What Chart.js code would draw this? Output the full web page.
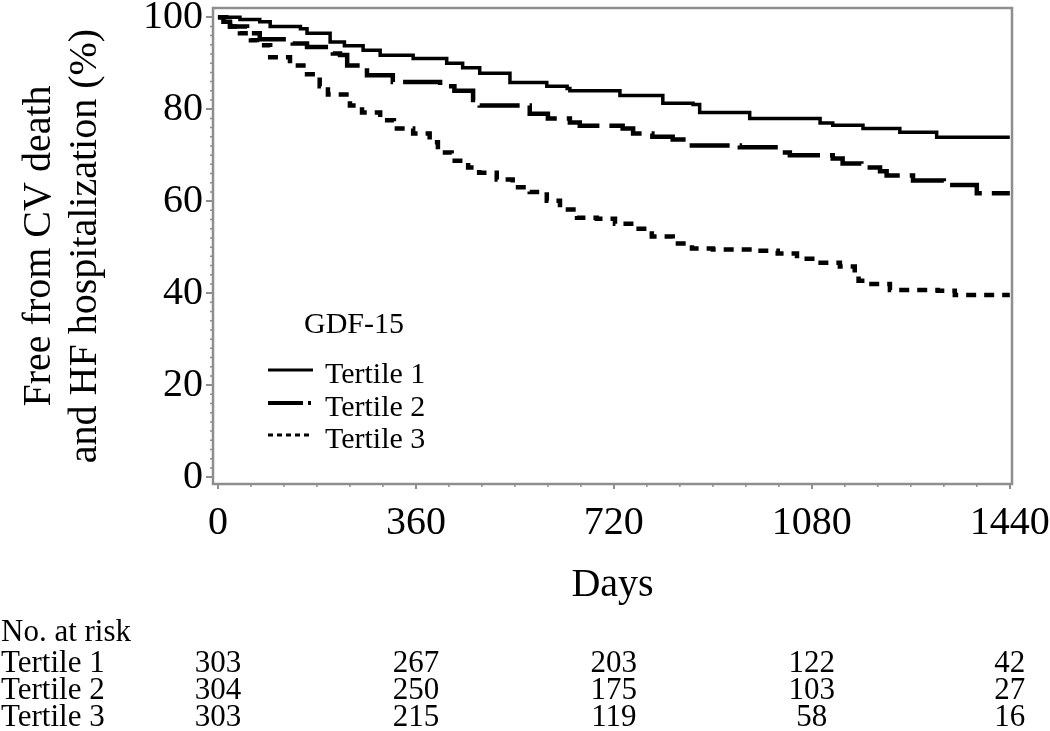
<!DOCTYPE html>
<html>
<head>
<meta charset="utf-8">
<script src="https://cdn.jsdelivr.net/npm/chart.js@4.4.1/dist/chart.umd.min.js"></script>
<style>
  html, body { margin: 0; padding: 0; background: #fff; }
</style>
</head>
<body>
<canvas id="kmChart" width="1050" height="731"></canvas>
<script>
// Kaplan-Meier curves (day of step, % after step)
const tertile1Days = [0, 40, 76, 95, 150, 162, 204, 230, 264, 295, 355, 416, 445, 476, 531, 598, 635, 640, 731, 809, 864, 876, 967, 1095, 1118, 1173, 1240, 1307, 1440];
const tertile1Surv = [100, 99.5, 99, 98, 97.5, 96.5, 94.6, 93.8, 92.8, 91.7, 91, 90, 89, 87.8, 85.8, 85, 84.5, 84, 83, 81.3, 81, 79.3, 78, 77, 76.5, 75.8, 75, 73.9, 73.9];

const tertile2Days = [0, 10, 22, 53, 76, 136, 162, 209, 222, 235, 271, 318, 404, 430, 464, 476, 567, 600, 640, 658, 736, 755, 790, 827, 853, 949, 1022, 1040, 1118, 1136, 1170, 1204, 1216, 1264, 1320, 1380, 1440];
const tertile2Surv = [100, 99, 98, 96.5, 95.2, 94.3, 93.5, 92.1, 91.8, 89.5, 87.4, 85.9, 85, 84, 82, 80.8, 79, 78, 77.1, 76.4, 75.8, 74.7, 74, 73.4, 72.1, 71.7, 70.6, 70, 69.3, 68.2, 67.3, 66.5, 65.6, 64.5, 63.5, 61.7, 61.7];

const tertile3Days = [0, 15, 22, 40, 60, 71, 95, 131, 162, 185, 200, 240, 262, 295, 320, 355, 385, 400, 425, 455, 475, 507, 536, 567, 598, 622, 653, 689, 722, 758, 789, 827, 862, 900, 980, 1018, 1053, 1089, 1131, 1158, 1165, 1180, 1222, 1309, 1340, 1440];
const tertile3Surv = [100, 99, 98, 96.5, 95, 93.9, 91.3, 89.5, 87.6, 85, 83.2, 80.8, 79.3, 77.6, 75.8, 74.7, 72.8, 70.6, 68.8, 67.3, 66.2, 64.7, 63, 62, 60.1, 58.2, 56.4, 56.2, 55.1, 54, 52.3, 50.8, 49.7, 49.5, 49.2, 48.6, 47.5, 46.6, 45.8, 44.2, 42.7, 42, 40.7, 40.5, 39.6, 39.6];

const seriesNames = ['Tertile 1', 'Tertile 2', 'Tertile 3'];
const xTicks = [0, 360, 720, 1080, 1440];
const yTicks = [0, 20, 40, 60, 80, 100];

// numbers at risk
const riskDays = [0, 360, 720, 1080, 1440];
const riskTertile1 = [303, 267, 203, 122, 42];
const riskTertile2 = [304, 250, 175, 103, 27];
const riskTertile3 = [303, 215, 119, 58, 16];

const SERIF = "'Liberation Serif', 'Times New Roman', serif";
const GREY = '#8e8e8e';

Chart.defaults.font.family = SERIF;
Chart.defaults.color = '#000';

function toPoints(days, surv) {
    return days.map((d, i) => ({ x: d, y: surv[i] }));
}

const kmExtras = {
    id: 'kmExtras',
    afterDraw(chart) {
        const { ctx, chartArea: a, scales: { x, y } } = chart;
        ctx.save();

        // frame round the plot
        ctx.strokeStyle = GREY;
        ctx.lineWidth = 2.5;
        ctx.strokeRect(a.left, a.top, a.right - a.left, a.bottom - a.top);

        // minor ticks
        ctx.lineWidth = 1.5;
        ctx.beginPath();
        for (let d = 60; d < 1440; d += 60) {
            if (d % 360 === 0) continue;
            const px = x.getPixelForValue(d);
            ctx.moveTo(px, a.bottom);
            ctx.lineTo(px, a.bottom + 3);
        }
        for (let v = 2; v < 100; v += 2) {
            if (v % 20 === 0) continue;
            const py = y.getPixelForValue(v);
            ctx.moveTo(a.left, py);
            ctx.lineTo(a.left - 3, py);
        }
        ctx.stroke();

        // legend inside the plot
        ctx.fillStyle = '#000';
        ctx.font = '30px ' + SERIF;
        ctx.textAlign = 'center';
        ctx.textBaseline = 'alphabetic';
        ctx.fillText('GDF-15', 354, 333);

        const legendDash = [[], [35, 5, 3, 5], [5, 4]];
        const legendWidth = [3, 4, 3];
        const baselines = [383, 416, 448];
        ctx.textAlign = 'left';
        ctx.strokeStyle = '#000';
        seriesNames.forEach((name, i) => {
            const ly = baselines[i] - 13;
            ctx.setLineDash(legendDash[i]);
            ctx.lineWidth = legendWidth[i];
            ctx.beginPath();
            ctx.moveTo(268, ly);
            ctx.lineTo(313, ly);
            ctx.stroke();
            ctx.fillText(name, 325, baselines[i]);
        });
        ctx.setLineDash([]);

        // number at risk table
        ctx.font = '31px ' + SERIF;
        ctx.textAlign = 'left';
        ctx.fillText('No. at risk', 1, 641);
        const rows = [riskTertile1, riskTertile2, riskTertile3];
        rows.forEach((row, i) => {
            const by = 672 + i * 27;
            ctx.textAlign = 'left';
            ctx.fillText(seriesNames[i], 1, by);
            ctx.textAlign = 'center';
            row.forEach((n, j) => {
                ctx.fillText(String(n), x.getPixelForValue(riskDays[j]), by);
            });
        });

        ctx.restore();
    }
};

const ctx = document.getElementById('kmChart').getContext('2d');
new Chart(ctx, {
    type: 'line',
    data: {
        datasets: [{
            label: seriesNames[0],
            data: toPoints(tertile1Days, tertile1Surv),
            borderColor: '#000',
            borderWidth: 3.5,
            stepped: true
        }, {
            label: seriesNames[1],
            data: toPoints(tertile2Days, tertile2Surv),
            borderColor: '#000',
            borderWidth: 4.5,
            borderDash: [40, 10],
            stepped: true
        }, {
            label: seriesNames[2],
            data: toPoints(tertile3Days, tertile3Surv),
            borderColor: '#000',
            borderWidth: 4.5,
            borderDash: [10, 8],
            stepped: true
        }]
    },
    options: {
        responsive: false,
        animation: false,
        devicePixelRatio: 1,
        layout: { padding: { top: 8, right: 38, bottom: 107, left: 0 } },
        elements: { point: { radius: 0 } },
        scales: {
            x: {
                type: 'linear',
                min: -9,
                max: 1444,
                afterBuildTicks: (scale) => { scale.ticks = xTicks.map(v => ({ value: v })); },
                afterFit: (scale) => {
                    scale.height = 140;
                    scale.paddingLeft = 0;
                    scale.paddingRight = 0;
                },
                grid: { drawOnChartArea: false, drawTicks: true, tickLength: 5, color: GREY, lineWidth: 2 },
                border: { display: false },
                ticks: {
                    font: { size: 40 },
                    padding: 10,
                    maxRotation: 0,
                    autoSkip: false,
                    callback: (value) => String(value)
                },
                title: { display: true, text: 'Days', font: { size: 40 }, padding: { top: 0, bottom: 15 } }
            },
            y: {
                type: 'linear',
                min: -1.5,
                max: 102,
                afterBuildTicks: (scale) => { scale.ticks = yTicks.map(v => ({ value: v })); },
                afterFit: (scale) => {
                    scale.width = 213;
                    scale.paddingTop = 0;
                    scale.paddingBottom = 0;
                },
                grid: { drawOnChartArea: false, drawTicks: true, tickLength: 7, color: GREY, lineWidth: 2 },
                border: { display: false },
                ticks: { font: { size: 40 }, padding: 3, callback: (value) => String(value) },
                title: {
                    display: true,
                    text: ['Free from CV death', 'and HF hospitalization (%)'],
                    font: { size: 40, lineHeight: 1.15 },
                    padding: { top: 16, bottom: 0 }
                }
            }
        },
        plugins: {
            legend: { display: false },
            tooltip: { enabled: false }
        }
    },
    plugins: [kmExtras]
});
</script>
</body>
</html>
